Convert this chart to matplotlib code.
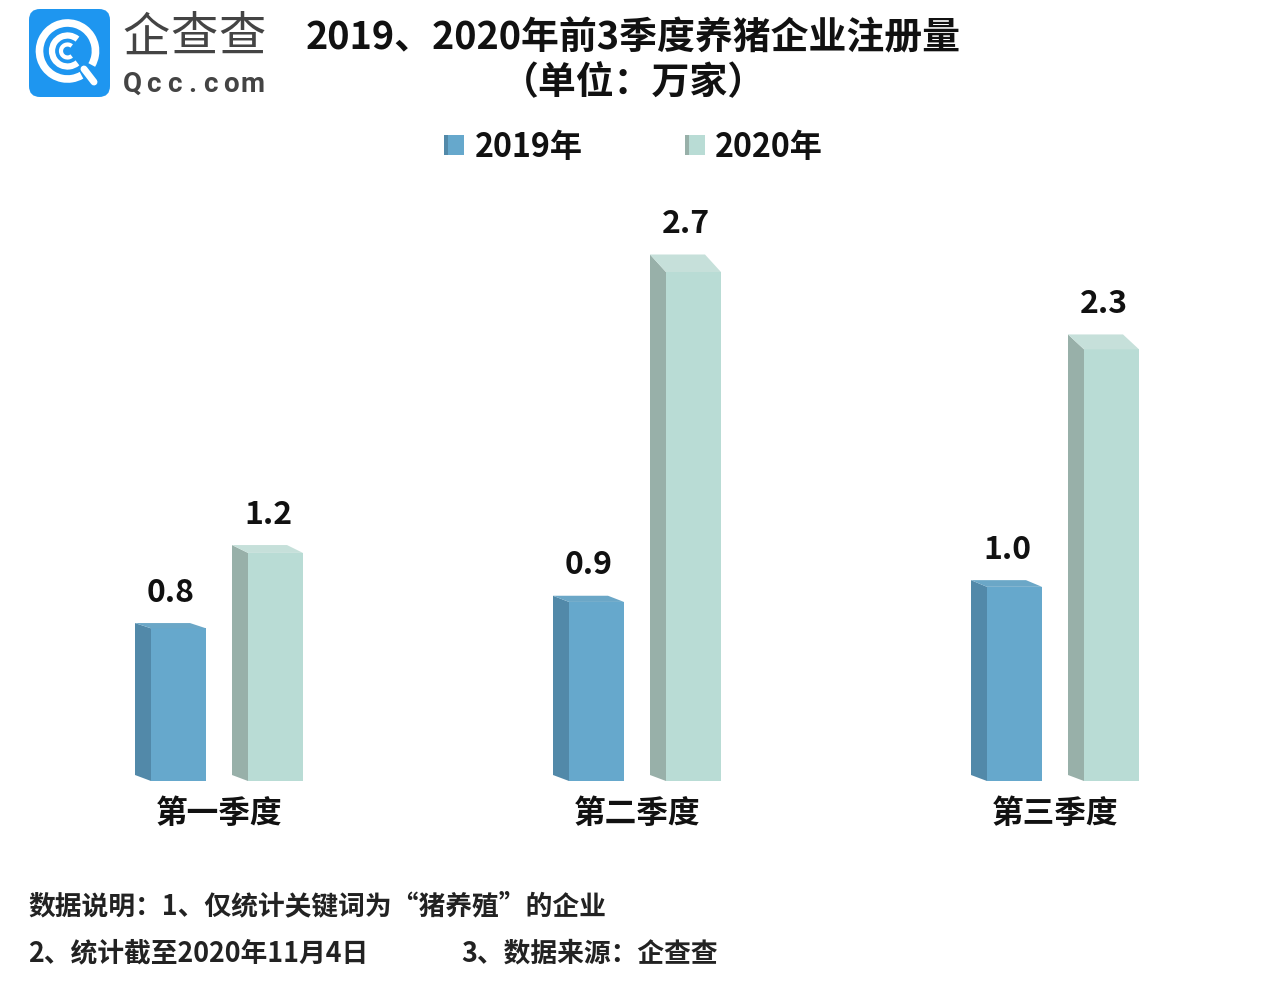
import matplotlib
matplotlib.use("Agg")
import matplotlib.pyplot as plt
from matplotlib.patches import Polygon, Rectangle, FancyBboxPatch, Arc
from matplotlib.lines import Line2D

# ---- data ----
categories = ["第一季度", "第二季度", "第三季度"]
series_names = ["2019年", "2020年"]
values_2019 = [0.81, 0.95, 1.03]
values_2020 = [1.21, 2.70, 2.29]
labels_2019 = ["0.8", "0.9", "1.0"]
labels_2020 = ["1.2", "2.7", "2.3"]
title_lines = ["2019、2020年前3季度养猪企业注册量", "（单位：万家）"]
note_1 = "数据说明：1、仅统计关键词为“猪养殖”的企业"
note_2 = "2、统计截至2020年11月4日"
note_3 = "3、数据来源：企查查"

W, H = 1268, 990
FONT = ["Noto Sans CJK SC", "DejaVu Sans"]
plt.rcParams["font.family"] = FONT

fig = plt.figure(figsize=(W / 100, H / 100), dpi=100, facecolor="white")

# data axes: px per value / px per group set so baseline sits at y=781
GROUP_PX, VALUE_PX, X0, Y0 = 418.0, 188.5, 219.0, 781.0
ax = fig.add_axes([0, 0, 1, 1])
ax.set_xlim(-X0 / GROUP_PX, (W - X0) / GROUP_PX)
ax.set_ylim(-(H - Y0) / VALUE_PX, Y0 / VALUE_PX)
ax.axis("off")

# overlay in pixel coordinates for furniture
ov = fig.add_axes([0, 0, 1, 1])
ov.set_xlim(0, W)
ov.set_ylim(H, 0)
ov.axis("off")
ov.patch.set_alpha(0)

px_x = 1 / GROUP_PX
px_y = 1 / VALUE_PX

COL = {
    0: dict(front="#66A8CC", side="#5289A9", top="#6BA7C7"),
    1: dict(front="#B9DCD5", side="#98B0A9", top="#C6E0DA"),
}


def bar3d(group, off, value, col, label):
    width = 55 * px_x
    depth = 16 * px_x
    xl = group + off * px_x
    xr = xl + width
    base_dy = 6 * px_y
    rise = value * 6.5 * px_y  # perspective of the top face grows with height
    ax.add_patch(Rectangle((xl, 0), width, value, fc=col["front"], ec="none", zorder=3))
    ax.add_patch(Polygon([(xl, 0), (xl, value), (xl - depth, value + rise), (xl - depth, base_dy)],
                         closed=True, fc=col["side"], ec="none", zorder=3))
    ax.add_patch(Polygon([(xl, value), (xr, value), (xr - depth, value + rise), (xl - depth, value + rise)],
                         closed=True, fc=col["top"], ec="none", zorder=3))
    ax.annotate(label, ((xl - depth + xr) / 2, value + rise), xytext=(0.5 * 0.72, 30.5 * 0.72),
                textcoords="offset points", ha="center", va="center",
                fontsize=23, fontweight="bold", color="#111111", zorder=4)


for i, cat in enumerate(categories):
    bar3d(i, -68, values_2019[i], COL[0], labels_2019[i])
    bar3d(i, 29, values_2020[i], COL[1], labels_2020[i])
    ax.annotate(cat, (i, 0), xytext=(0.5 * 0.72, -33 * 0.72), textcoords="offset points",
                ha="center", va="center", fontsize=22.8, fontweight="bold", color="#111111")

# title
ov.text(633, 38, title_lines[0], ha="center", va="center", fontsize=27.3, fontweight="bold", color="#111111")
ov.text(633, 83, title_lines[1], ha="center", va="center", fontsize=27.3, fontweight="bold", color="#111111")

# legend
for x0, col, name, tx in [(444, COL[0], series_names[0], 475), (685, COL[1], series_names[1], 715)]:
    ov.add_patch(Rectangle((x0, 135), 20, 20, fc=col["front"], ec="none"))
    ov.add_patch(Rectangle((x0, 135), 4, 20, fc=col["side"], ec="none"))
    ov.text(tx, 147, name, ha="left", va="center", fontsize=23.2, fontweight="bold", color="#111111")

# footnotes
ov.text(28.5, 906, note_1, ha="left", va="center", fontsize=19.3, fontweight="bold", color="#222222")
ov.text(28.5, 953, note_2, ha="left", va="center", fontsize=19.3, fontweight="bold", color="#222222")
ov.text(461, 953, note_3, ha="left", va="center", fontsize=19.3, fontweight="bold", color="#222222")

# logo
ov.add_patch(FancyBboxPatch((29, 9), 81, 88, boxstyle="round,pad=0,rounding_size=11",
                            fc="#1E96F0", ec="none"))
cx, cy = 67.5, 51
for d, lw, t1, t2 in [(56, 5.5, -300, 30), (31, 4.5, -310, -50), (13, 3, -310, -50)]:
    ov.add_patch(Arc((cx, cy), d, d, theta1=t1, theta2=t2, ec="white", lw=lw, capstyle="butt"))
ov.add_line(Line2D([84, 94], [69, 82], color="white", lw=5, solid_capstyle="round"))
for x, ch in zip([146, 194, 242], "企查查"):
    ov.text(x, 38, ch, ha="center", va="center", fontsize=34, fontweight="light", color="#444444")
for x, ch in zip([132, 153, 174, 192, 210, 231, 253], "Qcc.com"):
    ov.text(x, 84, ch, ha="center", va="center", fontsize=20, fontweight="bold", color="#444444",
            family=["Roboto", "DejaVu Sans"])

fig.savefig("out.png", dpi=100, facecolor="white")
